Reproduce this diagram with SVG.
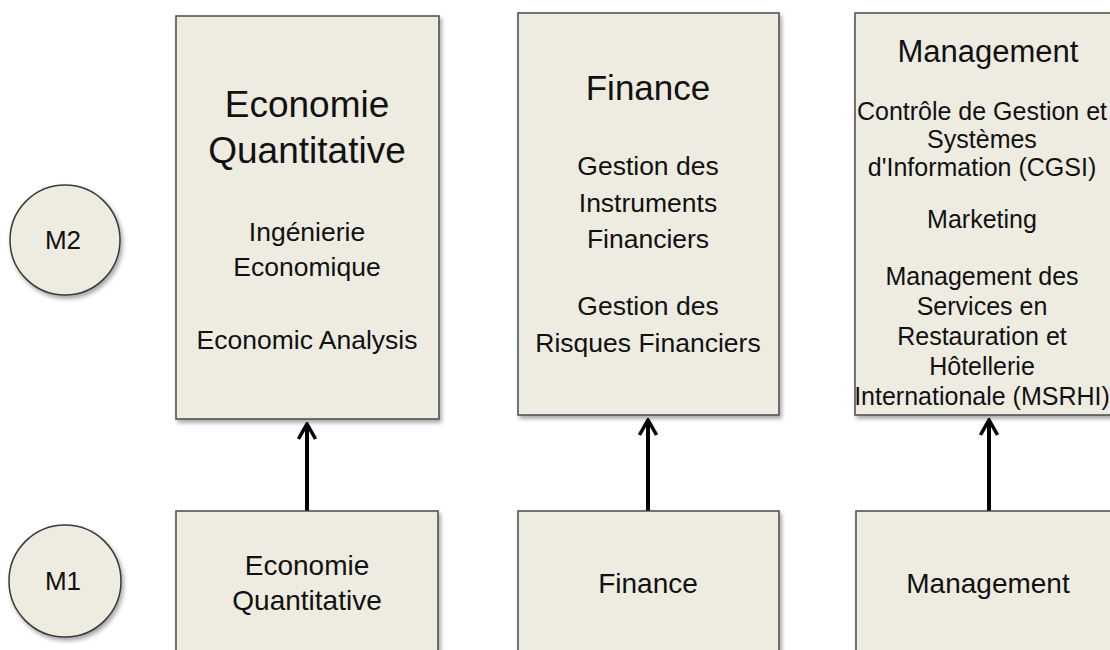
<svg xmlns="http://www.w3.org/2000/svg" width="1110" height="650" viewBox="0 0 1110 650">
<defs>
<style>
.box{fill:#EEECE1;stroke:#4a4a4a;stroke-width:1.5;filter:url(#sh)}
.circ{fill:#EEECE1;stroke:#3a3a3a;stroke-width:1.5;filter:url(#sh)}
text{font-family:"Liberation Sans",Arial,sans-serif;fill:#111;text-anchor:middle}
.t1{font-size:37px}
.t2{font-size:35px}
.t3{font-size:31px}
.b{font-size:26.5px}
.s{font-size:25px}
.m{font-size:28px}
.c{font-size:26px}
.arr{stroke:#000;stroke-width:4;fill:none;marker-end:url(#ah)}
</style>
<filter id="sh" x="-10%" y="-10%" width="130%" height="130%">
<feDropShadow dx="2" dy="3" stdDeviation="2" flood-color="#000" flood-opacity="0.35"/>
</filter>
<marker id="ah" viewBox="0 0 20 20" refX="18" refY="10" markerWidth="20" markerHeight="20" orient="auto" markerUnits="userSpaceOnUse">
<path d="M3,1.5 L18,10 L3,18.5" fill="none" stroke="#000" stroke-width="3.5" stroke-linejoin="miter"/>
</marker>
</defs>
<rect width="1110" height="650" fill="#fff"/>

<g id="connectors">
<line class="arr" x1="307" y1="511" x2="307" y2="424"/>
<line class="arr" x1="648" y1="511" x2="648" y2="420"/>
<line class="arr" x1="989" y1="511" x2="989" y2="420"/>
</g>

<g id="m2">
<circle class="circ" cx="65" cy="240" r="55"/>
<text class="c" x="63" y="249">M2</text>
</g>
<g id="m1">
<circle class="circ" cx="65" cy="581" r="56"/>
<text class="c" x="63" y="590">M1</text>
</g>

<g id="m2-eco">
<rect class="box" x="176" y="16" width="263" height="403"/>
<text class="t1" x="307" y="117">Economie</text>
<text class="t1" x="307" y="163">Quantitative</text>
<text class="b" x="307" y="241">Ingénierie</text>
<text class="b" x="307" y="276">Economique</text>
<text class="b" x="307" y="349">Economic Analysis</text>
</g>

<g id="m2-fin">
<rect class="box" x="518" y="13" width="261" height="402"/>
<text class="t2" x="648" y="100">Finance</text>
<text class="b" x="648" y="175">Gestion des</text>
<text class="b" x="648" y="212">Instruments</text>
<text class="b" x="648" y="248">Financiers</text>
<text class="b" x="648" y="315">Gestion des</text>
<text class="b" x="648" y="352">Risques Financiers</text>
</g>

<g id="m2-man">
<rect class="box" x="855" y="13" width="265" height="402"/>
<text class="t3" x="988" y="62">Management</text>
<text class="s" x="982" y="120">Contrôle de Gestion et</text>
<text class="s" x="982" y="148">Systèmes</text>
<text class="s" x="982" y="176">d'Information (CGSI)</text>
<text class="s" x="982" y="228">Marketing</text>
<text class="s" x="982" y="285">Management des</text>
<text class="s" x="982" y="315">Services en</text>
<text class="s" x="982" y="345">Restauration et</text>
<text class="s" x="982" y="375">Hôtellerie</text>
<text class="s" x="982" y="405">Internationale (MSRHI)</text>
</g>

<g id="m1-eco">
<rect class="box" x="176" y="511" width="262" height="160"/>
<text class="m" x="307" y="575">Economie</text>
<text class="m" x="307" y="610">Quantitative</text>
</g>
<g id="m1-fin">
<rect class="box" x="518" y="511" width="261" height="160"/>
<text class="m" x="648" y="593">Finance</text>
</g>
<g id="m1-man">
<rect class="box" x="856" y="511" width="265" height="160"/>
<text class="m" x="988" y="593">Management</text>
</g>
</svg>
